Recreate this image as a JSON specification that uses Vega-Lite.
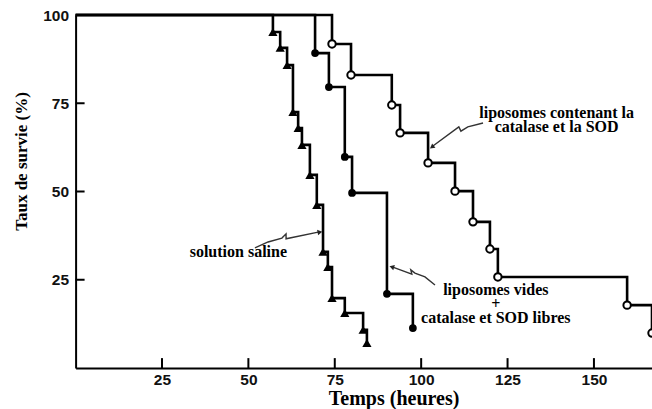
{
  "$schema": "https://vega.github.io/schema/vega-lite/v6.json",
  "width": 576.4,
  "height": 353,
  "autosize": {"type": "none"},
  "padding": {"left": 75.6, "top": 15, "right": 0, "bottom": 41},
  "background": "white",
  "config": {
    "view": {"stroke": null},
    "axis": {
      "grid": false,
      "ticks": false,
      "tickSize": 0,
      "domainColor": "#000",
      "domainWidth": 2,
      "labelFont": "Liberation Sans",
      "labelFontWeight": "bold",
      "labelFontSize": 15.5,
      "labelColor": "#111",
      "titleFont": "Liberation Serif",
      "titleFontWeight": "bold",
      "titleColor": "#000"
    }
  },
  "datasets": {
    "curves": [
      {"series": "saline", "t": 0, "s": 100},
      {"series": "saline", "t": 57.1, "s": 95.2},
      {"series": "saline", "t": 59.2, "s": 90.7},
      {"series": "saline", "t": 61.2, "s": 85.8},
      {"series": "saline", "t": 62.9, "s": 72.5},
      {"series": "saline", "t": 64.4, "s": 68.0},
      {"series": "saline", "t": 65.5, "s": 63.2},
      {"series": "saline", "t": 67.8, "s": 54.7},
      {"series": "saline", "t": 69.8, "s": 46.2},
      {"series": "saline", "t": 71.6, "s": 32.9},
      {"series": "saline", "t": 73.0, "s": 28.6},
      {"series": "saline", "t": 74.2, "s": 19.8},
      {"series": "saline", "t": 77.9, "s": 15.6},
      {"series": "saline", "t": 83.2, "s": 10.8},
      {"series": "saline", "t": 84.3, "s": 7.1},
      {"series": "vides", "t": 0, "s": 100},
      {"series": "vides", "t": 69.3, "s": 89.2},
      {"series": "vides", "t": 73.3, "s": 79.6},
      {"series": "vides", "t": 77.9, "s": 59.8},
      {"series": "vides", "t": 80.0, "s": 49.6},
      {"series": "vides", "t": 90.1, "s": 21.0},
      {"series": "vides", "t": 97.6, "s": 11.3},
      {"series": "contenant", "t": 0, "s": 100},
      {"series": "contenant", "t": 74.2, "s": 91.8},
      {"series": "contenant", "t": 79.7, "s": 83.0},
      {"series": "contenant", "t": 91.5, "s": 74.5},
      {"series": "contenant", "t": 93.9, "s": 66.6},
      {"series": "contenant", "t": 102.0, "s": 58.1},
      {"series": "contenant", "t": 109.8, "s": 50.1},
      {"series": "contenant", "t": 115.0, "s": 41.4},
      {"series": "contenant", "t": 119.9, "s": 33.7},
      {"series": "contenant", "t": 122.2, "s": 25.8},
      {"series": "contenant", "t": 159.6, "s": 17.8},
      {"series": "contenant", "t": 166.8, "s": 9.9}
    ],
    "xticks": [{"v": 25}, {"v": 50}, {"v": 75}, {"v": 100}, {"v": 125}, {"v": 150}],
    "yticks": [{"v": 25}, {"v": 50}, {"v": 75}],
    "labels": [
      {"x": 139.2, "y": 70.8, "text": "liposomes contenant la\ncatalase et la SOD"},
      {"x": 47.1, "y": 31.4, "text": "solution saline"},
      {"x": 121.6, "y": 20.7, "text": "liposomes vides\n+\ncatalase et SOD libres"}
    ],
    "arrows": [
      {"arrow": "a1", "i": 0, "x": 51.9, "y": 34.0},
      {"arrow": "a1", "i": 1, "x": 55.7, "y": 35.7},
      {"arrow": "a1", "i": 2, "x": 59.7, "y": 36.8},
      {"arrow": "a1", "i": 3, "x": 60.9, "y": 38.0},
      {"arrow": "a1", "i": 4, "x": 60.9, "y": 36.6},
      {"arrow": "a1", "i": 5, "x": 70.2, "y": 38.5},
      {"arrow": "a2", "i": 0, "x": 104.0, "y": 23.5},
      {"arrow": "a2", "i": 1, "x": 101.1, "y": 25.8},
      {"arrow": "a2", "i": 2, "x": 98.2, "y": 26.9},
      {"arrow": "a2", "i": 3, "x": 97.0, "y": 27.8},
      {"arrow": "a2", "i": 4, "x": 97.3, "y": 26.6},
      {"arrow": "a2", "i": 5, "x": 91.8, "y": 28.6},
      {"arrow": "a3", "i": 0, "x": 117.9, "y": 69.4},
      {"arrow": "a3", "i": 1, "x": 113.5, "y": 68.3},
      {"arrow": "a3", "i": 2, "x": 111.5, "y": 67.1},
      {"arrow": "a3", "i": 3, "x": 110.9, "y": 68.3},
      {"arrow": "a3", "i": 4, "x": 103.4, "y": 62.9}
    ],
    "heads": [
      {"arrow": "a1", "x": 70.7, "y": 38.5},
      {"arrow": "a2", "x": 91.5, "y": 28.6},
      {"arrow": "a3", "x": 103.1, "y": 62.6}
    ]
  },
  "layer": [
    {
      "data": {"name": "curves"},
      "mark": {"type": "line", "interpolate": "step-after", "color": "#000", "strokeWidth": 2.6, "clip": false},
      "encoding": {
        "x": {
          "field": "t", "type": "quantitative",
          "scale": {"domain": [0, 166.8], "nice": false, "zero": false},
          "axis": {
            "values": [25, 50, 75, 100, 125, 150],
            "labelPadding": 4,
            "title": "Temps (heures)",
            "titleFontSize": 20,
            "titleX": 318,
            "titleY": 36,
            "titleBaseline": "alphabetic"
          }
        },
        "y": {
          "field": "s", "type": "quantitative",
          "scale": {"domain": [0, 100], "nice": false},
          "axis": {
            "values": [25, 50, 75, 100],
            "labelPadding": 7,
            "title": "Taux de survie (%)",
            "titleFontSize": 17,
            "titleAngle": 270,
            "titleX": -54,
            "titleY": 146,
            "titleBaseline": "middle"
          }
        },
        "detail": {"field": "series"}
      }
    },
    {
      "data": {"name": "xticks"},
      "mark": {"type": "rule", "color": "#000", "strokeWidth": 2},
      "encoding": {
        "x": {"field": "v", "type": "quantitative"},
        "y": {"datum": 0},
        "y2": {"datum": 2.8}
      }
    },
    {
      "data": {"name": "yticks"},
      "mark": {"type": "rule", "color": "#000", "strokeWidth": 2},
      "encoding": {
        "y": {"field": "v", "type": "quantitative"},
        "x": {"datum": 0},
        "x2": {"datum": 2.6}
      }
    },
    {
      "data": {"name": "arrows"},
      "mark": {"type": "line", "color": "#333", "strokeWidth": 1.4},
      "encoding": {
        "x": {"field": "x", "type": "quantitative"},
        "y": {"field": "y", "type": "quantitative"},
        "detail": {"field": "arrow"},
        "order": {"field": "i"}
      }
    },
    {
      "data": {"name": "heads"},
      "transform": [{"filter": "datum.arrow === 'a1'"}],
      "mark": {"type": "point", "shape": "triangle-up", "filled": true, "color": "#222", "size": 30, "angle": 79, "opacity": 1},
      "encoding": {"x": {"field": "x", "type": "quantitative"}, "y": {"field": "y", "type": "quantitative"}}
    },
    {
      "data": {"name": "heads"},
      "transform": [{"filter": "datum.arrow === 'a2'"}],
      "mark": {"type": "point", "shape": "triangle-up", "filled": true, "color": "#222", "size": 30, "angle": 287, "opacity": 1},
      "encoding": {"x": {"field": "x", "type": "quantitative"}, "y": {"field": "y", "type": "quantitative"}}
    },
    {
      "data": {"name": "heads"},
      "transform": [{"filter": "datum.arrow === 'a3'"}],
      "mark": {"type": "point", "shape": "triangle-up", "filled": true, "color": "#222", "size": 30, "angle": 233, "opacity": 1},
      "encoding": {"x": {"field": "x", "type": "quantitative"}, "y": {"field": "y", "type": "quantitative"}}
    },
    {
      "data": {"name": "curves"},
      "transform": [{"filter": "datum.series === 'saline' && datum.t > 0"}],
      "mark": {"type": "point", "shape": "triangle-up", "filled": true, "color": "#000", "size": 85, "opacity": 1},
      "encoding": {"x": {"field": "t", "type": "quantitative"}, "y": {"field": "s", "type": "quantitative"}}
    },
    {
      "data": {"name": "curves"},
      "transform": [{"filter": "datum.series === 'vides' && datum.t > 0"}],
      "mark": {"type": "point", "shape": "circle", "filled": true, "color": "#000", "size": 60, "opacity": 1},
      "encoding": {"x": {"field": "t", "type": "quantitative"}, "y": {"field": "s", "type": "quantitative"}}
    },
    {
      "data": {"name": "curves"},
      "transform": [{"filter": "datum.series === 'contenant' && datum.t > 0"}],
      "mark": {"type": "point", "shape": "circle", "filled": false, "fill": "white", "fillOpacity": 1, "stroke": "#000", "strokeWidth": 2, "size": 55, "opacity": 1, "clip": false},
      "encoding": {"x": {"field": "t", "type": "quantitative"}, "y": {"field": "s", "type": "quantitative"}}
    },
    {
      "data": {"name": "labels"},
      "mark": {"type": "text", "font": "Liberation Serif", "fontWeight": "bold", "fontSize": 16, "lineHeight": 14, "lineBreak": "\n", "align": "center", "baseline": "alphabetic", "color": "#000"},
      "encoding": {
        "x": {"field": "x", "type": "quantitative"},
        "y": {"field": "y", "type": "quantitative"},
        "text": {"field": "text"}
      }
    }
  ]
}
